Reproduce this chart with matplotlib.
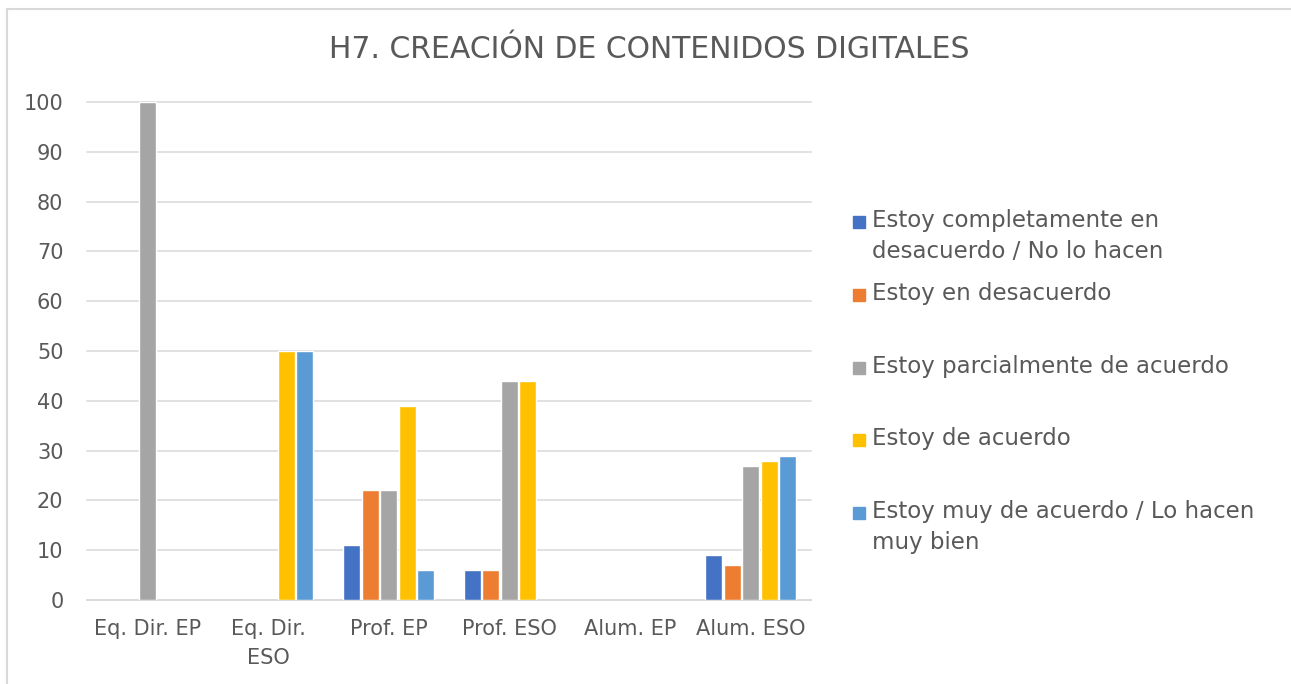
import numpy as np
import matplotlib
matplotlib.use('Agg')
import matplotlib.pyplot as plt
from matplotlib.lines import Line2D
from matplotlib.patches import Rectangle

TITLE = 'H7. CREACIÓN DE CONTENIDOS DIGITALES'
CATEGORIES = ['Eq. Dir. EP', 'Eq. Dir.\nESO', 'Prof. EP', 'Prof. ESO', 'Alum. EP', 'Alum. ESO']
SERIES = [
    'Estoy completamente en\ndesacuerdo / No lo hacen',
    'Estoy en desacuerdo',
    'Estoy parcialmente de acuerdo',
    'Estoy de acuerdo',
    'Estoy muy de acuerdo / Lo hacen\nmuy bien',
]
COLORS = ['#4472C4', '#ED7D31', '#A5A5A5', '#FFC000', '#5B9BD5']

completamente_desacuerdo = [0, 0, 11, 6, 0, 9]
desacuerdo = [0, 0, 22, 6, 0, 7]
parcialmente = [100, 0, 22, 44, 0, 27]
de_acuerdo = [0, 50, 39, 44, 0, 28]
muy_de_acuerdo = [0, 50, 6, 0, 0, 29]
VALUES = [completamente_desacuerdo, desacuerdo, parcialmente, de_acuerdo, muy_de_acuerdo]

TEXT = '#595959'
GRID = '#D9D9D9'
W, H = 1291, 684

fig = plt.figure(figsize=(W / 100, H / 100), dpi=100)
ax = fig.add_axes([87 / W, 1 - 600 / H, (811 - 87) / W, (600 - 102) / H])

x = np.arange(len(CATEGORIES))
step = 0.153
for i, (vals, col) in enumerate(zip(VALUES, COLORS)):
    lw = [1.0 if v else 0 for v in vals]
    ax.bar(x + (i - 2) * step, vals, width=0.14, color=col,
           edgecolor='white', linewidth=lw, zorder=3)

ax.set_xlim(-0.5, len(CATEGORIES) - 0.5)
ax.set_ylim(0, 100)
ax.set_yticks(np.arange(0, 101, 10))
ax.set_xticks(x)
ax.set_xticklabels(CATEGORIES, linespacing=1.55)
ax.grid(axis='y', color=GRID, linewidth=1.1, zorder=0)
for gl in ax.get_ygridlines():
    gl.set_clip_on(False)
ax.set_axisbelow(True)
for s in ['top', 'right', 'left']:
    ax.spines[s].set_visible(False)
ax.spines['bottom'].set_color(GRID)
ax.spines['bottom'].set_linewidth(1.1)
ax.tick_params(axis='both', length=0, labelsize=15, labelcolor=TEXT)
ax.tick_params(axis='y', pad=17)
ax.tick_params(axis='x', pad=14)

fig.text(649 / W, 1 - 50 / H, TITLE, ha='center', va='center',
         fontsize=21.5, color=TEXT)

# legend laid out by hand: square + label, centred on the first text line
legend_rows = [222, 295, 368, 440, 513]
for label, col, yc in zip(SERIES, COLORS, legend_rows):
    fig.patches.append(Rectangle((853 / W, 1 - (yc + 6) / H), 12 / W, 12 / H,
                                 transform=fig.transFigure, color=col))
    fig.text(872 / W, 1 - (yc - 13) / H, label, ha='left', va='top',
             fontsize=16.5, color=TEXT, linespacing=1.45)

# outer chart border (top and left visible)
fig.add_artist(Line2D([7 / W, 1], [1 - 9 / H, 1 - 9 / H], color=GRID,
                      linewidth=1.5, transform=fig.transFigure))
fig.add_artist(Line2D([7 / W, 7 / W], [0, 1 - 9 / H], color=GRID,
                      linewidth=1.5, transform=fig.transFigure))

fig.savefig('out.png', dpi=100, facecolor='white')
